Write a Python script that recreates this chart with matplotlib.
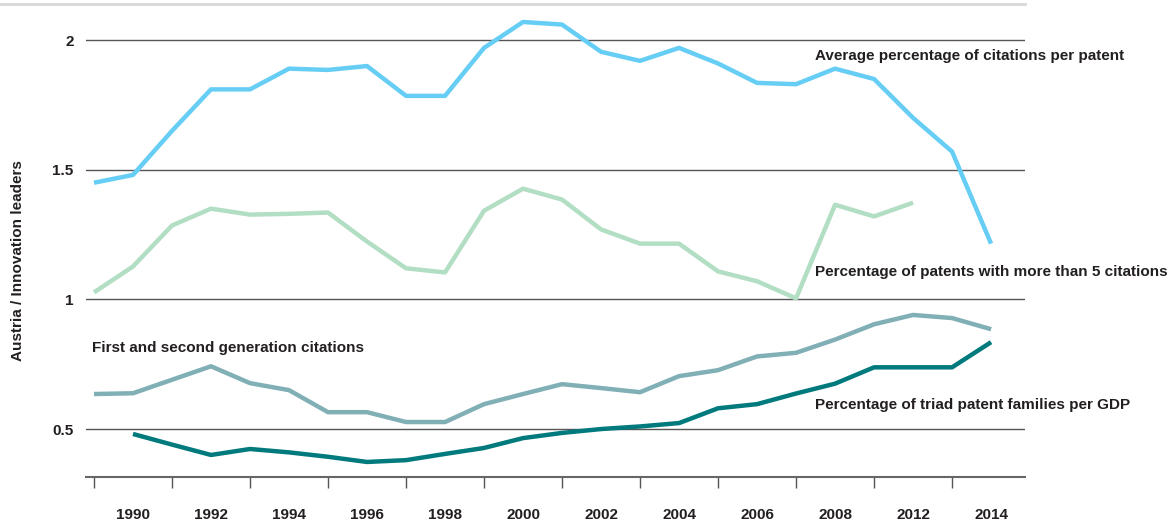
import numpy as np
import matplotlib
matplotlib.use("Agg")
import matplotlib.pyplot as plt

plt.rcParams['font.family'] = ['Liberation Sans', 'DejaVu Sans']
plt.rcParams['font.weight'] = 'bold'

years = list(range(1989, 2013))

avg_citations = [1.45, 1.48, 1.65, 1.81, 1.81, 1.89, 1.885, 1.90, 1.785, 1.785,
                 1.97, 2.07, 2.06, 1.955, 1.92, 1.97, 1.91, 1.835, 1.83, 1.89,
                 1.85, 1.70, 1.57, 1.215]

more_than_5 = [1.027, 1.127, 1.285, 1.35, 1.327, 1.33, 1.335, 1.223, 1.12, 1.104,
               1.342, 1.427, 1.385, 1.27, 1.215, 1.215, 1.108, 1.07, 1.004, 1.365,
               1.32, 1.373]

first_second_gen = [0.635, 0.638, 0.69, 0.742, 0.677, 0.65, 0.565, 0.565, 0.527, 0.527,
                    0.596, 0.635, 0.673, 0.658, 0.642, 0.704, 0.727, 0.78, 0.794, 0.845,
                    0.904, 0.94, 0.928, 0.885]

triad_years = list(range(1990, 2013))
triad_per_gdp = [0.481, 0.44, 0.40, 0.423, 0.41, 0.393, 0.373, 0.38, 0.404, 0.427,
                 0.465, 0.485, 0.5, 0.51, 0.523, 0.58, 0.596, 0.637, 0.675, 0.738,
                 0.738, 0.738, 0.835]

label_pos = [1990, 1992, 1994, 1996, 1998, 2000, 2002, 2004, 2006, 2008, 2010, 2012]
label_txt = ["1990", "1992", "1994", "1996", "1998", "2000", "2002", "2004",
             "2006", "2008", "2012", "2014"]

TXT = "#231F20"
W, H = 1172, 526
fig = plt.figure(figsize=(W / 100, H / 100), dpi=100)
ax = fig.add_axes([86 / W, (H - 477) / H, (1025 - 86) / W, (477 - 9) / H])

ax.plot(years, avg_citations, color="#66CDF5", lw=3.2, solid_capstyle="butt", zorder=3)
ax.plot(years[:len(more_than_5)], more_than_5, color="#B2DEC3", lw=3.2,
        solid_capstyle="butt", zorder=3)
ax.plot(years, first_second_gen, color="#80AFB6", lw=3.2, solid_capstyle="butt", zorder=3)
ax.plot(triad_years, triad_per_gdp, color="#007A7C", lw=3.2, solid_capstyle="butt", zorder=3)

ax.set_xlim(1988.795, 2012.87)
ax.set_ylim(0.315, 2.12)

ax.set_yticks([0.5, 1, 1.5, 2])
ax.set_yticklabels(["0.5", "1", "1.5", "2"])
ax.yaxis.grid(True, color="#555555", lw=1)
ax.tick_params(axis="y", length=0, pad=9, labelsize=11, labelcolor=TXT)

ax.set_xticks(range(1989, 2012, 2))
ax.set_xticklabels([])
ax.set_xticks(label_pos, minor=True)
ax.set_xticklabels(label_txt, minor=True)
ax.tick_params(axis="x", which="major", length=8, width=1, color="#555555", direction="out")
ax.tick_params(axis="x", which="minor", length=0, pad=22, labelsize=11, labelcolor=TXT)

for s in ["top", "right", "left"]:
    ax.spines[s].set_visible(False)
ax.spines["bottom"].set_color("#666666")
ax.spines["bottom"].set_linewidth(1.5)
ax.set_axisbelow(True)

fig.text(18 / W, 1 - 261 / H, "Austria / Innovation leaders", rotation=90,
         ha="center", va="center", fontsize=11, color=TXT, fontweight="bold")

kw = dict(fontsize=11, color=TXT, va="center", ha="left", fontweight="bold")
ax.text(2007.49, 1.94, "Average percentage of citations per patent", **kw)
ax.text(2007.49, 1.104, "Percentage of patents with more than 5 citations", **kw)
ax.text(1988.95, 0.811, "First and second generation citations", **kw)
ax.text(2007.49, 0.592, "Percentage of triad patent families per GDP", **kw)

# light band at the top of the picture
fig.add_artist(plt.Line2D([0, 1025 / W], [1 - 4 / H, 1 - 4 / H], color="#D8D8D8", lw=2))

fig.savefig("out.png", dpi=100)
